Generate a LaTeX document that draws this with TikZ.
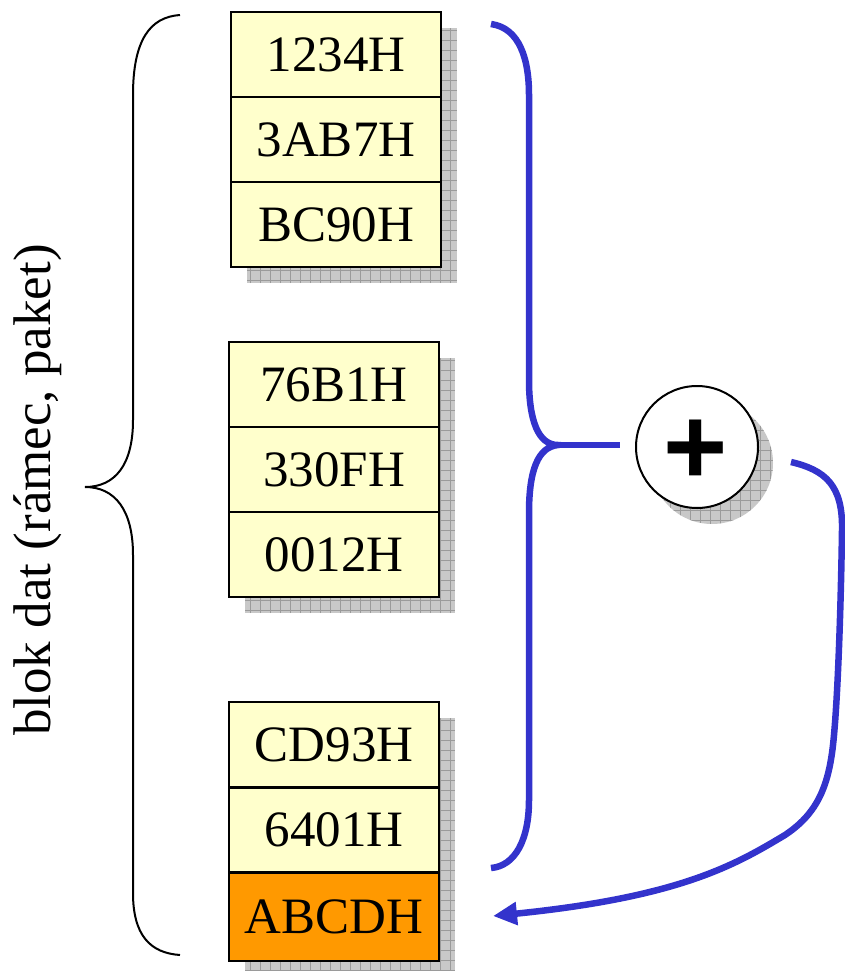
\documentclass[tikz,border=0pt]{standalone}
\usepackage{fontspec}
\setmainfont{Liberation Serif}
\newfontfamily\plusfont{Liberation Sans}
\usetikzlibrary{arrows.meta}
\definecolor{cellyellow}{HTML}{FFFFCC}
\definecolor{cellorange}{HTML}{FF9900}
\definecolor{linkblue}{HTML}{3333CC}
\definecolor{shadowgray}{HTML}{C8C8C8}
\definecolor{gridgray}{HTML}{9A9A9A}
\begin{document}
\begin{tikzpicture}[x=1pt,y=-1pt,
  cell/.style={draw=black, line width=2.5pt, fill=cellyellow, minimum width=210pt,
    minimum height=85pt, inner sep=0pt, font=\fontsize{51}{55}\selectfont},
  lastcell/.style={cell, fill=cellorange, minimum height=88pt},
  shadowfill/.style={fill=shadowgray},
  shadowgrid/.style={draw=gridgray, line width=0.5pt},
  bluelink/.style={draw=linkblue, line width=6.5pt},
  blackbrace/.style={draw=black, line width=2pt}]
\useasboundingbox (0,0) rectangle (844,971);

% shadows of the three groups
\foreach \xa/\ya/\xb/\yb in {247/28/457/283, 245/358/455/613, 245/718/455/971}{
  \begin{scope}
    \clip (\xa,\ya) rectangle (\xb,\yb);
    \fill[shadowfill] (\xa,\ya) rectangle (\xb,\yb);
    \draw[shadowgrid, step=10pt] (\xa,\ya) grid (\xb,\yb);
  \end{scope}
}
% shadow of the sum circle
\begin{scope}
  \clip (712,463) circle (61);
  \fill[shadowfill] (650,400) rectangle (775,526);
  \draw[shadowgrid, step=10pt] (650,400) grid (775,526);
\end{scope}

% group 1
\node[cell] (c1) at (336,54.5) {1234H};
\node[cell] (c2) at (336,139.5) {3AB7H};
\node[cell] (c3) at (336,224.5) {BC90H};
% group 2
\node[cell] (c4) at (334,384.5) {76B1H};
\node[cell] (c5) at (334,469.5) {330FH};
\node[cell] (c6) at (334,554.5) {0012H};
% group 3
\node[cell] (c7) at (334,744.5) {CD93H};
\node[cell] (c8) at (334,830) {6401H};
\node[lastcell] (c9) at (334,917) {ABCDH};

% side label
\node[rotate=90, font=\fontsize{53}{57}\selectfont] (lbl) at (38,490) {blok dat (rámec, paket)};

% black brace
\draw[blackbrace] (180,15) .. controls (150,17) and (133,40) .. (133,95)
  -- (133,420) .. controls (133,465) and (115,487) .. (85,487)
  .. controls (115,487) and (133,510) .. (133,555)
  -- (133,893) .. controls (133,935) and (150,953) .. (180,955);

% sum node
\node[circle, draw=black, line width=2pt, fill=white, minimum size=122pt, inner sep=0pt] (sum) at (697,447) {};
\node[font=\plusfont\bfseries\fontsize{110}{110}\selectfont, inner sep=0pt] (plus) at (696,452) {+};

% blue brace
\coordinate (btop) at (491,24);
\coordinate (btip) at (558,445);
\coordinate (bbot) at (491,868);
\coordinate (bin) at (620,445);
\draw[bluelink] (btop) .. controls (520,28) and (529,60) .. (529,95)
  -- (529,380) .. controls (529,420) and (538,445) .. (btip)
  .. controls (538,447) and (529,470) .. (529,513)
  -- (529,800) .. controls (529,840) and (515,866) .. (bbot);
\draw[bluelink] (btip) -- (bin);

% output arrow
\coordinate (oout) at (791,462);
\coordinate (otip) at (493,916);
\draw[bluelink, -{Triangle[length=24pt,width=22pt]}] (oout)
  .. controls (825,470) and (843,485) .. (842,530)
  .. controls (841,600) and (838,700) .. (833,745)
  .. controls (828,790) and (815,815) .. (785,835)
  .. controls (735,865) and (680,897) .. (otip);
\end{tikzpicture}
\end{document}
